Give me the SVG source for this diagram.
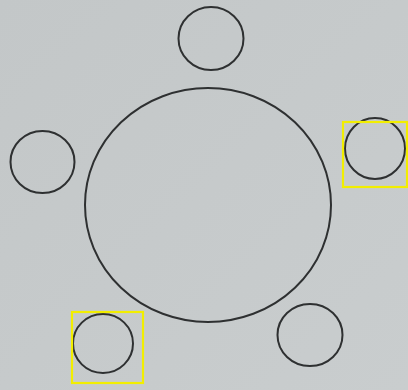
<svg xmlns="http://www.w3.org/2000/svg" width="408" height="390" viewBox="0 0 408 390">
  <style>
    .c { fill: none; stroke: #2e3031; stroke-width: 2; }
    .hl { fill: none; stroke: #f2ee00; stroke-width: 2.2; }
  </style>
  <defs>
    <linearGradient id="bg" x1="0" y1="0" x2="1" y2="1">
      <stop offset="0" stop-color="#c3c7c8"/>
      <stop offset="1" stop-color="#c9cdce"/>
    </linearGradient>
  </defs>
  <rect x="0" y="0" width="408" height="390" fill="url(#bg)"/>
  <g id="center">
    <ellipse class="c" cx="208" cy="205" rx="123" ry="117"/>
  </g>
  <g id="top">
    <ellipse class="c" cx="211" cy="38.5" rx="32.5" ry="31.5"/>
  </g>
  <g id="left">
    <ellipse class="c" cx="42.5" cy="162" rx="32" ry="31"/>
  </g>
  <g id="right">
    <ellipse class="c" cx="375" cy="148.5" rx="30" ry="30.5"/>
    <rect class="hl" x="343" y="122" width="64" height="65"/>
  </g>
  <g id="bottom-left">
    <ellipse class="c" cx="103" cy="343.5" rx="30" ry="29.5"/>
    <rect class="hl" x="72" y="312" width="71" height="71"/>
  </g>
  <g id="bottom-right">
    <ellipse class="c" cx="310" cy="335" rx="32.5" ry="31"/>
  </g>
  <g id="connectors"/>
</svg>
